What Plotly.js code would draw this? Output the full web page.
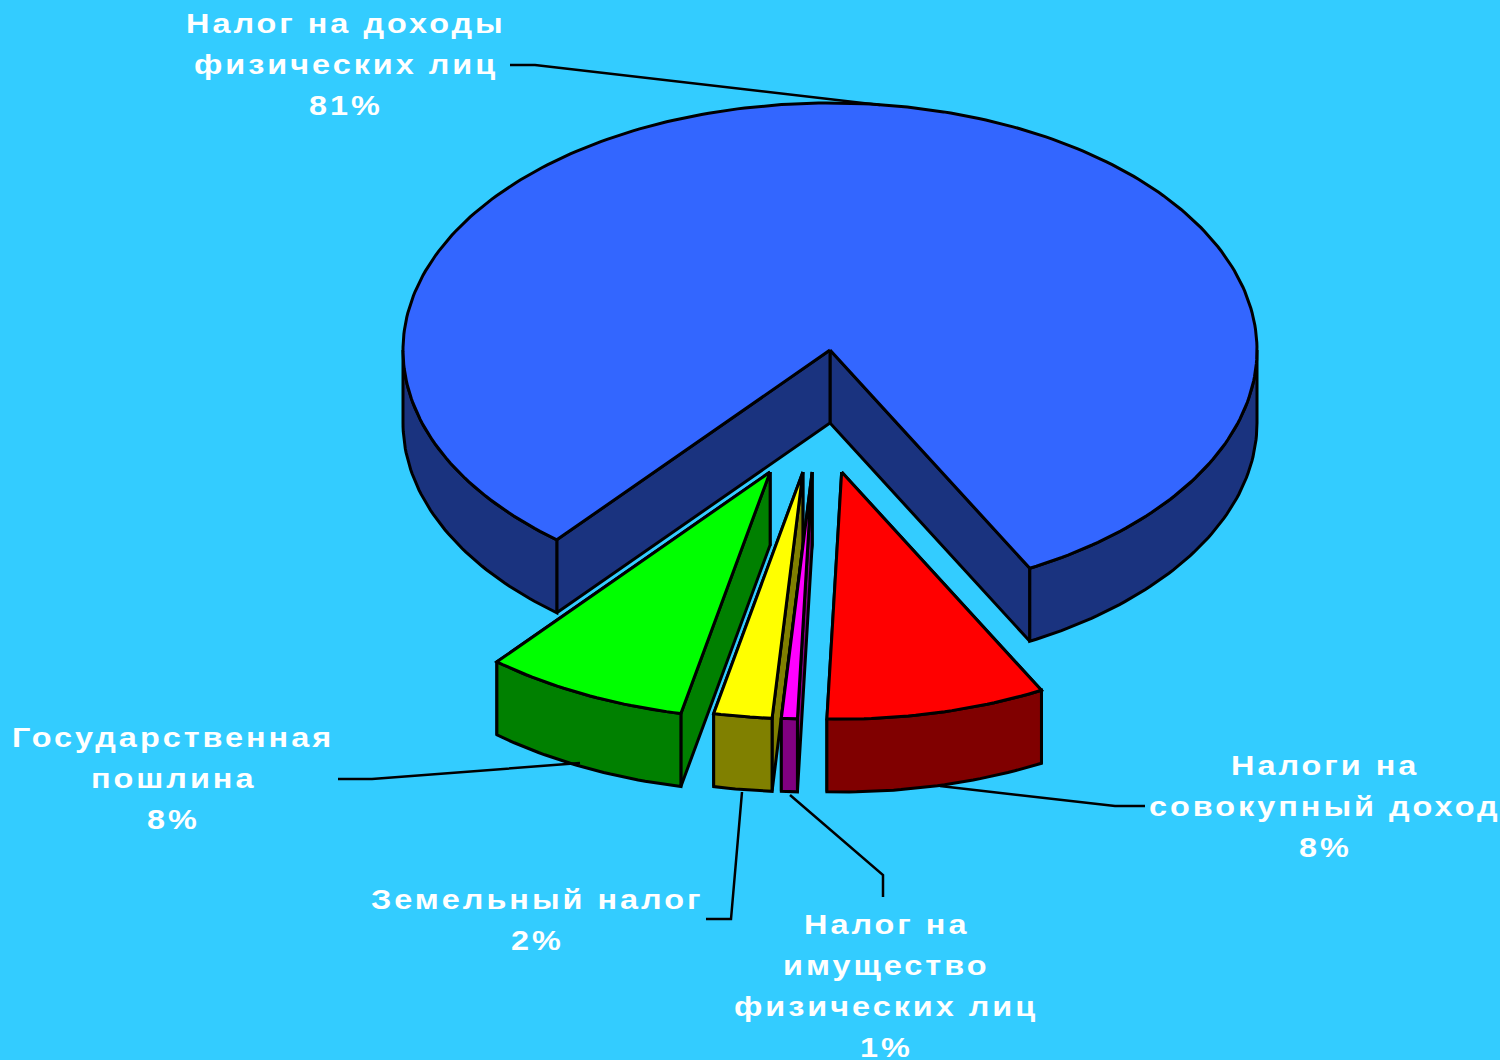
<!DOCTYPE html>
<html>
<head>
<meta charset="utf-8">
<script src="https://cdn.plot.ly/plotly-3.0.1.min.js"></script>
<style>
html,body{margin:0;padding:0;background:#33CCFF;overflow:hidden}
.annotation-text{letter-spacing:2.5px;transform-box:fill-box;transform-origin:center;transform:scaleX(1.2)}
</style>
</head>
<body>
<div id="chart" style="width:1500px;height:1060px"></div>
<script>
// Data (order: clockwise round the pie on screen, starting with the large slice)
const categories = [
  ["Налог на доходы", "физических лиц"],
  ["Государственная", "пошлина"],
  ["Земельный налог"],
  ["Налог на", "имущество", "физических лиц"],
  ["Налоги на", "совокупный доход"]
];
const shares = [81.2, 7.7, 2.2, 0.6, 8.3];
const topColors = ["#3366FF", "#00FF00", "#FFFF00", "#FF00FF", "#FF0000"];
const sideColors = ["#1A337F", "#008000", "#808000", "#800080", "#800000"];

// Label placement: centre x, first-line y
const labelX = [346, 173, 537, 886, 1325];
const labelY = [24, 738, 900, 925, 766];
const labelStep = 41;
// Leader lines
const leaderX = [[510, 535, 880], [338, 372, 580], [706, 731, 742], [883, 883, 790], [1145, 1115, 940]];
const leaderY = [[65, 65, 105], [779, 779, 763], [919, 919, 792], [897, 875, 795], [806, 806, 786]];

// Projection
const cx = 830, cy = 350, rx = 427, ry = 247, depth = 73;
const rotation = 27.9;
const explodeY = 122, explodeX0 = -12.2, explodeXSlope = 1.84;

const rad = d => d * Math.PI / 180;
const pt = (t, ox, oy, dz) => [cx + ox + rx * Math.sin(rad(t)), cy + oy + dz + ry * Math.cos(rad(t))];

function arc(t0, t1, ox, oy, dz) {
  const pts = [];
  const n = Math.max(2, Math.ceil(Math.abs(t1 - t0)));
  for (let i = 0; i <= n; i++) pts.push(pt(t0 + (t1 - t0) * i / n, ox, oy, dz));
  return pts;
}
function poly(pts, fill, w) {
  const closed = pts.concat([pts[0]]);
  return {
    type: "scatter", mode: "lines", x: closed.map(p => p[0]), y: closed.map(p => p[1]),
    fill: "toself", fillcolor: fill, line: {color: "#000", width: w || 3},
    hoverinfo: "skip", showlegend: false
  };
}

const traces = [];
let start = rotation;
shares.forEach((v, i) => {
  const sweep = v * 3.6, end = start + sweep;
  const a0 = start, a1 = end;
  let mid = (a0 + a1) / 2;
  if (mid > 180) mid -= 360;
  const ox = i === 0 ? 0 : explodeX0 + explodeXSlope * mid;
  const oy = i === 0 ? 0 : explodeY;
  const c0 = [cx + ox, cy + oy], c1 = [cx + ox, cy + oy + depth];
  // cut faces
  [a0, a1].forEach(a => {
    traces.push(poly([c0, pt(a, ox, oy, 0), pt(a, ox, oy, depth), c1], sideColors[i]));
  });
  // outer wall: only the part that faces the viewer
  const ranges = [[-90, 90], [270, 450]];
  ranges.forEach(r => {
    const lo = Math.max(a0, r[0]), hi = Math.min(a1, r[1]);
    if (hi > lo) {
      traces.push(poly(arc(lo, hi, ox, oy, 0).concat(arc(hi, lo, ox, oy, depth)), sideColors[i]));
    }
  });
  // top
  traces.push(poly([c0].concat(arc(a0, a1, ox, oy, 0)), topColors[i]));
  start = end;
});

// Leaders
leaderX.forEach((xs, i) => {
  traces.push({type: "scatter", mode: "lines", x: xs, y: leaderY[i],
    line: {color: "#000", width: 2.5}, hoverinfo: "skip", showlegend: false});
});

// Labels, one annotation per line for the wide line pitch of the original
const annotations = [];
categories.forEach((lines, i) => {
  lines.concat([Math.round(shares[i]) + "%"]).forEach((txt, j) => {
    annotations.push({
      x: labelX[i], y: labelY[i] + j * labelStep, xref: "x", yref: "y",
      text: txt, showarrow: false, xanchor: "center", yanchor: "middle",
      font: {family: "Liberation Sans, Arial, sans-serif", size: 27, color: "#FFFFFF", weight: 700}
    });
  });
});

Plotly.newPlot("chart", traces, {
  width: 1500, height: 1060,
  margin: {l: 0, r: 0, t: 0, b: 0},
  paper_bgcolor: "#33CCFF", plot_bgcolor: "#33CCFF",
  xaxis: {range: [0, 1500], visible: false, fixedrange: true},
  yaxis: {range: [1060, 0], visible: false, fixedrange: true},
  showlegend: false,
  annotations: annotations
}, {staticPlot: true, displayModeBar: false});
</script>
</body>
</html>
